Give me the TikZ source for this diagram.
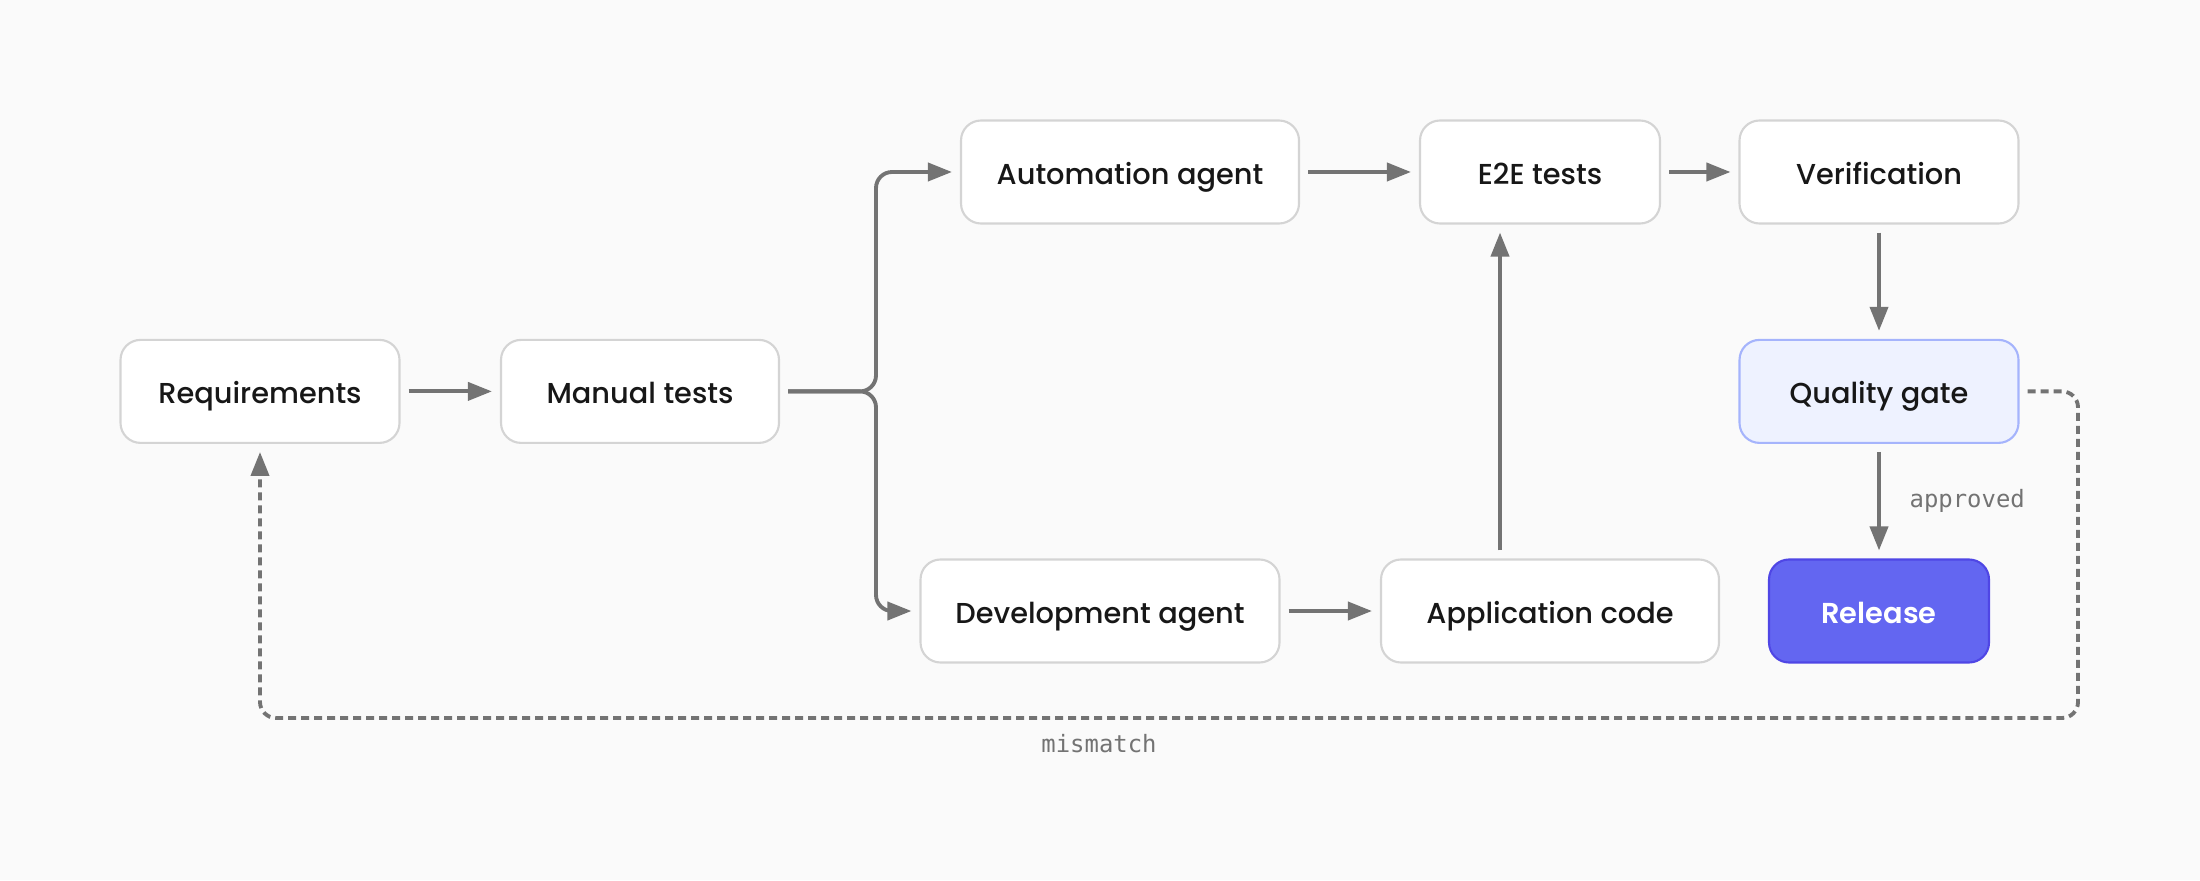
\documentclass[tikz,border=0pt]{standalone}
\usepackage{fontspec}
\usetikzlibrary{arrows.meta, positioning}

\newfontfamily\boxfont{Poppins Medium}
\newfontfamily\shipfont{Poppins SemiBold}
\newfontfamily\tagfont{DejaVu Sans Mono}

\definecolor{canvas}{HTML}{FAFAFA}
\definecolor{rim}{HTML}{D4D4D4}
\definecolor{wire}{HTML}{737373}
\definecolor{ink}{HTML}{171717}
\definecolor{gatefill}{HTML}{EEF2FF}
\definecolor{gaterim}{HTML}{A5B4FC}
\definecolor{shipfill}{HTML}{6366F1}
\definecolor{shiprim}{HTML}{4F46E5}

\begin{document}
\begin{tikzpicture}[
    >={Triangle[length=0.24cm, width=0.18cm]},
    stage/.style={draw=rim, fill=white, line width=0.6pt, rounded corners=0.2cm,
        minimum height=1.03cm, text=ink, text height=0.7em, text depth=0pt,
        font=\boxfont\fontsize{8.2}{10}\selectfont},
    flow/.style={->, draw=wire, line width=1.1pt,
        shorten >=0.08cm, shorten <=0.08cm},
    tag/.style={text=wire, font=\tagfont\fontsize{6.8}{8}\selectfont}
]
    % background
    \fill[canvas] (0, 0) rectangle (22, 8.8);

    % define stages
    \node[stage, minimum width=2.79cm] (req) at (2.60, 4.886) {Requirements};
    \node[stage, minimum width=2.78cm] (mt) at (6.40, 4.886) {Manual tests};
    \node[stage, minimum width=3.38cm] (aa) at (11.30, 7.08) {Automation agent};
    \node[stage, minimum width=2.40cm] (e2e) at (15.40, 7.08) {E2E tests};
    \node[stage, minimum width=2.79cm] (ver) at (18.79, 7.08) {Verification};
    \node[stage, minimum width=2.79cm, fill=gatefill, draw=gaterim] (qg) at (18.79, 4.886) {Quality gate};
    \node[stage, minimum width=3.59cm] (da) at (11.00, 2.69) {Development agent};
    \node[stage, minimum width=3.38cm] (ac) at (15.50, 2.69) {Application code};
    \node[stage, minimum width=2.20cm, fill=shipfill, draw=shiprim, text=white,
        font=\shipfont\fontsize{8.2}{10}\selectfont] (rel) at (18.79, 2.69) {Release};

    % helper points
    \coordinate (fork) at (8.76, 4.886);
    \coordinate (back) at (20.78, 1.62);

    % straight arrows
    \foreach \a/\b in {req/mt, aa/e2e, e2e/ver, ver/qg, da/ac}
        \draw[flow] (\a) -- (\b);
    \draw[flow] ([xshift=-0.5cm]ac.north) -- ([xshift=-0.5cm]ac.north |- e2e.south);
    \draw[flow] (qg) -- node[tag, right=0.17cm] (ok) {approved} (rel);

    % split after manual tests
    \draw[flow, rounded corners=0.16cm] (mt.east) -- (fork) |- (aa.west);
    \draw[flow, rounded corners=0.16cm] (mt.east) -- (fork) |- (da.west);

    % feedback loop
    \draw[flow, dash pattern=on 0.08cm off 0.05cm, rounded corners=0.16cm]
        (qg.east) -| (back) -| (req.south);
    \node[tag] (miss) at (10.99, 1.36) {mismatch};
\end{tikzpicture}
\end{document}
